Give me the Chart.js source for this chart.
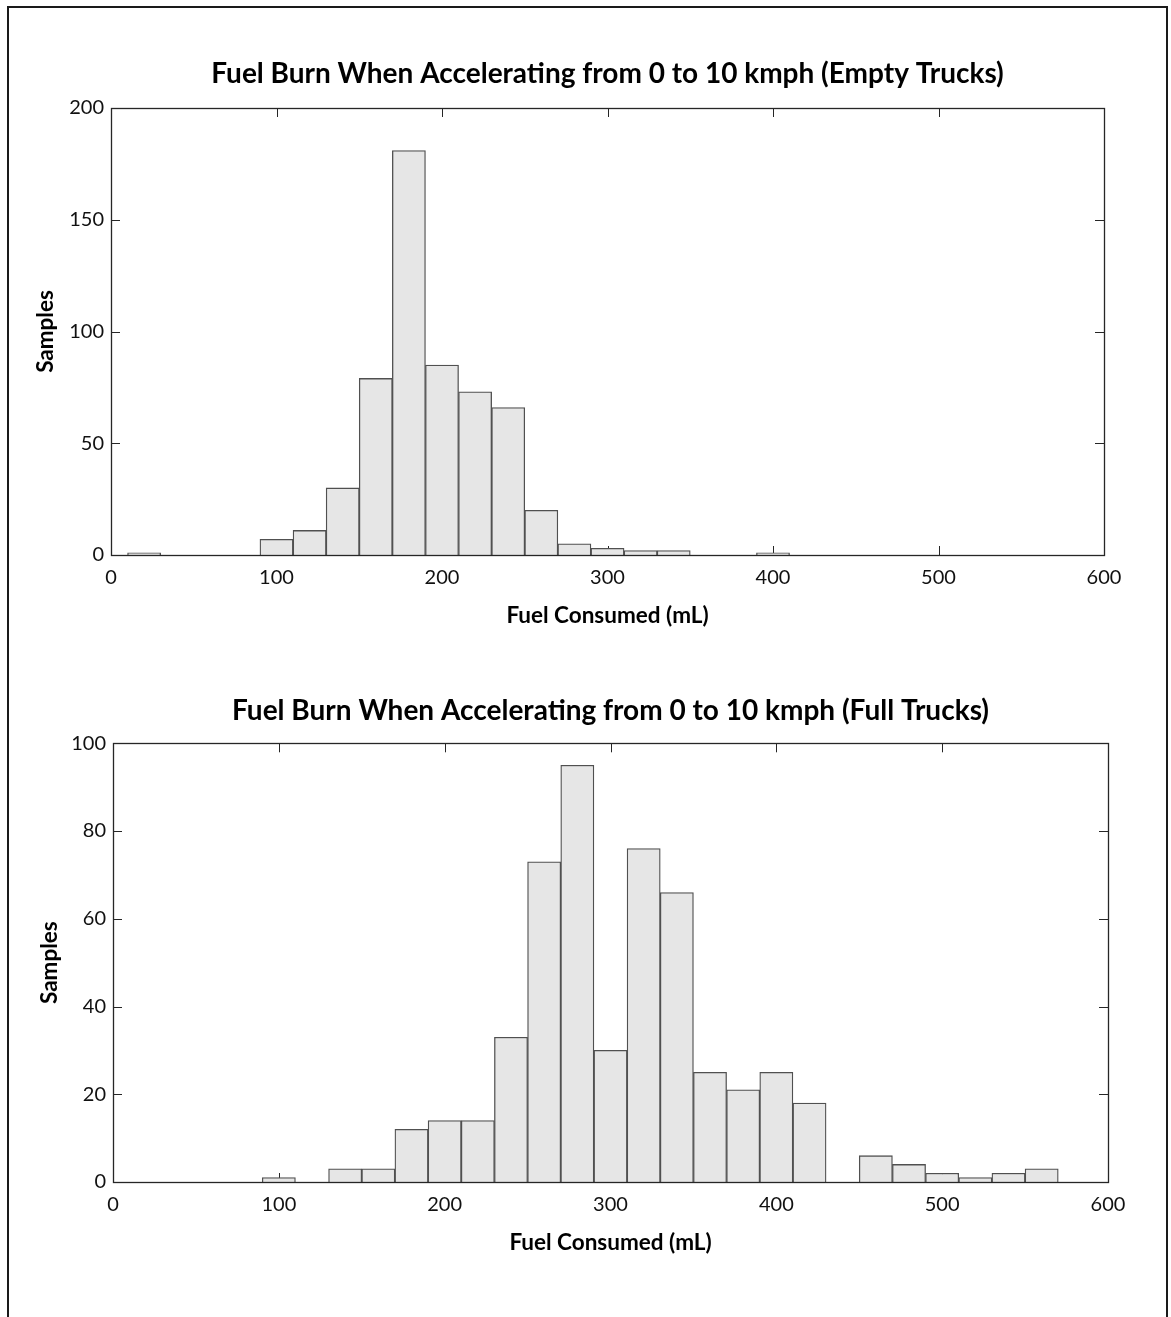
<!DOCTYPE html>
<html>
<head>
<meta charset="utf-8">
<script src="https://cdn.jsdelivr.net/npm/chart.js@4/dist/chart.umd.min.js"></script>
<style>
  html, body { margin: 0; padding: 0; background: #fff; }
  body { width: 1171px; height: 1317px; position: relative; overflow: hidden; }
  #frameBox { position: absolute; left: 7px; top: 6px; width: 1157px; height: 1400px;
    border: 2px solid #1a1a1a; border-bottom: none; }
  canvas { position: absolute; left: 0; }
  #c1 { top: 0; }
  #c2 { top: 650px; }
</style>
</head>
<body>
<div id="frameBox"></div>
<canvas id="c1" width="1171" height="650"></canvas>
<canvas id="c2" width="1171" height="667"></canvas>
<script>
// ---- data ----
const binCenters = [20, 40, 60, 80, 100, 120, 140, 160, 180, 200, 220, 240, 260, 280, 300,
                    320, 340, 360, 380, 400, 420, 440, 460, 480, 500, 520, 540, 560, 580];
const emptyCounts = [1, 0, 0, 0, 7, 11, 30, 79, 181, 85, 73, 66, 20, 5, 3,
                     2, 2, 0, 0, 1, 0, 0, 0, 0, 0, 0, 0, 0, 0];
const fullCounts  = [0, 0, 0, 0, 1, 0, 3, 3, 12, 14, 14, 33, 73, 95, 30,
                     76, 66, 25, 21, 25, 18, 0, 6, 4, 2, 1, 2, 3, 0];
const xTicks = [0, 100, 200, 300, 400, 500, 600];
const yTicksEmpty = [0, 50, 100, 150, 200];
const yTicksFull = [0, 20, 40, 60, 80, 100];
const titleEmpty = 'Fuel Burn When Accelerating from 0 to 10 kmph (Empty Trucks)';
const titleFull = 'Fuel Burn When Accelerating from 0 to 10 kmph (Full Trucks)';
const xLabel = 'Fuel Consumed (mL)';
const yLabel = 'Samples';

const FONT = "Lato, 'Open Sans', sans-serif";
const AXIS_COLOR = '#262626';
const TICK_LEN = 9;

const framePlugin = {
  id: 'matlabFrame',
  beforeDatasetsDraw(chart) {
    const {ctx, chartArea: a, scales: {x, y}} = chart;
    ctx.save();
    ctx.strokeStyle = AXIS_COLOR;
    ctx.lineWidth = 1;
    ctx.beginPath();
    x.ticks.forEach(t => {
      const px = Math.round(x.getPixelForValue(t.value)) + 0.5;
      if (px <= a.left + 1 || px >= a.right - 1) return;
      ctx.moveTo(px, a.bottom); ctx.lineTo(px, a.bottom - TICK_LEN);
      ctx.moveTo(px, a.top); ctx.lineTo(px, a.top + TICK_LEN);
    });
    y.ticks.forEach(t => {
      const py = Math.round(y.getPixelForValue(t.value)) + 0.5;
      if (py <= a.top + 1 || py >= a.bottom - 1) return;
      ctx.moveTo(a.left, py); ctx.lineTo(a.left + TICK_LEN, py);
      ctx.moveTo(a.right, py); ctx.lineTo(a.right - TICK_LEN, py);
    });
    ctx.stroke();
    ctx.restore();
  },
  afterDatasetsDraw(chart) {
    const {ctx, chartArea: a} = chart;
    ctx.save();
    ctx.strokeStyle = AXIS_COLOR;
    ctx.lineWidth = 1.3;
    ctx.strokeRect(Math.round(a.left) + 0.5, Math.round(a.top) + 0.5,
                   Math.round(a.right - a.left), Math.round(a.bottom - a.top));
    ctx.restore();
  }
};

function makeChart(id, counts, yTicks, yMax, title, cfg) {
  const ctx = document.getElementById(id);
  return new Chart(ctx, {
    type: 'bar',
    data: {
      datasets: [{
        data: binCenters.map((c, i) => ({x: c, y: counts[i]})),
        backgroundColor: '#e6e6e6',
        borderColor: '#505050',
        borderWidth: 1.3,
        borderSkipped: 'start',
        barPercentage: 1,
        categoryPercentage: 1
      }]
    },
    options: {
      responsive: false,
      animation: false,
      events: [],
      layout: { padding: cfg.padding },
      plugins: {
        legend: { display: false },
        tooltip: { enabled: false },
        title: {
          display: true,
          fullSize: false,
          text: title,
          color: '#000',
          font: { family: FONT, size: 28, weight: 'bold', lineHeight: 1.2 },
          padding: { top: 0, bottom: cfg.titleGap }
        }
      },
      scales: {
        x: {
          type: 'linear',
          min: 0, max: 600,
          offset: false,
          grid: { display: false, drawTicks: false },
          border: { display: false },
          afterBuildTicks: s => { s.ticks = xTicks.map(v => ({value: v})); },
          ticks: {
            color: '#111',
            font: { family: FONT, size: 20 },
            padding: cfg.xTickPad,
            maxRotation: 0,
            autoSkip: false
          },
          title: {
            display: true,
            text: xLabel,
            color: '#000',
            font: { family: FONT, size: 22.5, weight: 'bold', lineHeight: 1.2 },
            padding: { top: 0, bottom: 5.5 }
          },
          afterFit: s => { s.height = 80; }
        },
        y: {
          min: 0, max: yMax,
          grid: { display: false, drawTicks: false },
          border: { display: false },
          afterBuildTicks: s => { s.ticks = yTicks.map(v => ({value: v})); },
          ticks: {
            color: '#111',
            font: { family: FONT, size: 20 },
            padding: 7,
            autoSkip: false
          },
          title: {
            display: true,
            text: yLabel,
            color: '#000',
            font: { family: FONT, size: 22.5, weight: 'bold', lineHeight: 1.2 },
            padding: { top: cfg.yTitlePad, bottom: 0 }
          },
          afterFit: s => { s.width = cfg.yWidth; }
        }
      }
    },
    plugins: [framePlugin]
  });
}

makeChart('c1', emptyCounts, yTicksEmpty, 200, titleEmpty, {
  padding: { top: 57, left: 10, right: 67, bottom: 15 },
  titleGap: 17.4, xTickPad: 11, yTitlePad: 22.5, yWidth: 101
});
makeChart('c2', fullCounts, yTicksFull, 100, titleFull, {
  padding: { top: 44, left: 10, right: 63, bottom: 55 },
  titleGap: 15.7, xTickPad: 11, yTitlePad: 26.5, yWidth: 103
});
</script>
</body>
</html>
